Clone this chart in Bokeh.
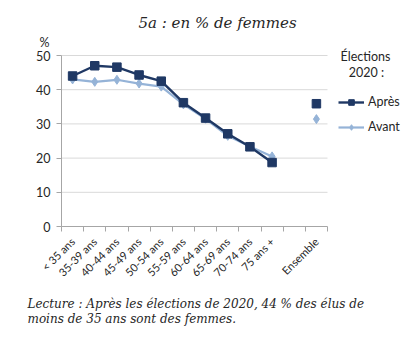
from bokeh.plotting import figure
from bokeh.models import (Range1d, FixedTicker, Label, Legend, LegendItem, Title)
from bokeh.embed import file_html
from bokeh.resources import INLINE
from math import pi

categories = ["< 35 ans", "35-39 ans", "40-44 ans", "45-49 ans", "50-54 ans",
              "55-59 ans", "60-64 ans", "65-69 ans", "70-74 ans", "75 ans +",
              "", "Ensemble"]
apres = [44.0, 47.0, 46.6, 44.3, 42.5, 36.2, 31.7, 27.1, 23.3, 18.7]
avant = [43.0, 42.3, 42.9, 41.8, 40.9, 35.7, 31.5, 26.5, 23.4, 20.5]
apres_ensemble = 35.9
avant_ensemble = 31.4
y_ticks = [0, 10, 20, 30, 40, 50]

DARK = "#1F3864"
LIGHT = "#95B3D7"
TXT = "#262626"
SANS = "Lato"
SERIF = "DejaVu Serif"

n = len(categories)
idx = list(range(n))
age_x = idx[:len(apres)]
ens_x = [categories.index("Ensemble")]
x0, x1 = -0.5, n - 0.5
y0, y1 = y_ticks[0], y_ticks[-1]

# frame extends to the right edge so that legend texts are inside it
FRAME_L, FRAME_T = 61, 45
px_per_x = 266 / n
px_per_y = 171 / (y1 - y0)
x_end = x0 + (414 - FRAME_L) / px_per_x
y_end = y0 + (226 - FRAME_T) / px_per_y

p = figure(width=414, height=338, output_backend="svg", toolbar_location=None,
           x_range=Range1d(x0, x_end), y_range=Range1d(y0, y_end),
           min_border_left=FRAME_L, min_border_right=0, min_border_top=FRAME_T,
           min_border_bottom=112)
p.outline_line_color = None
p.background_fill_color = "white"
p.border_fill_color = "white"
p.title.text = ""

# axes
p.xaxis.ticker = FixedTicker(ticks=[i for i in idx if categories[i]],
                             minor_ticks=[i - 0.5 for i in idx] + [n - 0.5])
p.xaxis.bounds = (x0, x1)
p.xaxis.major_label_overrides = {i: c for i, c in enumerate(categories) if c}
p.xaxis.major_label_orientation = pi / 4
p.xaxis.major_tick_out = 0
p.xaxis.major_tick_in = 0
p.xaxis.minor_tick_out = 5
p.xaxis.minor_tick_in = 0
p.xaxis.minor_tick_line_color = "#A6A6A6"
p.xaxis.axis_line_color = "#A6A6A6"
p.xaxis.major_label_text_font = SANS
p.xaxis.major_label_text_font_size = "11px"
p.xaxis.major_label_text_color = TXT
p.xaxis.major_label_standoff = 8

p.yaxis.ticker = FixedTicker(ticks=y_ticks)
p.yaxis.bounds = (y0, y1)
p.yaxis.axis_line_color = "#A6A6A6"
p.yaxis.major_tick_line_color = "#A6A6A6"
p.yaxis.major_tick_out = 5
p.yaxis.major_tick_in = 0
p.yaxis.minor_tick_line_color = None
p.yaxis.major_label_text_font = SANS
p.yaxis.major_label_text_font_size = "12.5px"
p.yaxis.major_label_text_color = TXT
p.yaxis.major_label_standoff = 6

p.xgrid.grid_line_color = None
p.ygrid.grid_line_color = None
grid_y = y_ticks[1:]
p.segment(x0=[x0] * len(grid_y), x1=[x1] * len(grid_y), y0=grid_y, y1=grid_y,
          line_color="#D9D9D9", line_width=1)

# series
l_av = p.line(age_x, avant, line_color=LIGHT, line_width=2.2)
m_av = p.scatter(age_x, avant, marker="diamond", size=9, fill_color=LIGHT, line_color=LIGHT)
l_ap = p.line(age_x, apres, line_color=DARK, line_width=2.4)
m_ap = p.scatter(age_x, apres, marker="square", size=8.5, fill_color=DARK, line_color=DARK)
p.scatter(ens_x, [apres_ensemble], marker="square", size=8.5, fill_color=DARK, line_color=DARK)
p.scatter(ens_x, [avant_ensemble], marker="diamond", size=9, fill_color=LIGHT, line_color=LIGHT)

legend = Legend(items=[LegendItem(label="Après", renderers=[l_ap, m_ap]),
                       LegendItem(label="Avant", renderers=[l_av, m_av])],
                location=(277, 92), orientation="vertical",
                label_text_font=SANS, label_text_font_size="12.5px",
                label_text_color=TXT, glyph_width=26, glyph_height=14,
                spacing=10, padding=0, margin=0, label_standoff=4,
                border_line_color=None, background_fill_alpha=0)
p.add_layout(legend, "center")

def lab(text, x, y, size="12.5px"):
    p.add_layout(Label(x=x, y=y, x_units="screen", y_units="screen", text=text,
                       text_font=SANS, text_font_size=size,
                       text_color=TXT, text_align="center", text_baseline="middle"))

lab("Élections", 304, 170)
lab("2020 :", 305, 154)

# titles above (first added is nearest the frame)
p.add_layout(Title(text="%", align="left", offset=-22, standoff=-8,
                   text_font=SANS, text_font_size="12.5px", text_font_style="normal",
                   text_color=TXT), "above")
p.add_layout(Title(text="5a : en % de femmes", align="left", offset=77, standoff=10,
                   text_font=SERIF, text_font_size="15px", text_font_style="italic",
                   text_color=TXT), "above")

# footnote below
p.add_layout(Title(text="Lecture : Après les élections de 2020, 44 % des élus de\n"
                        "moins de 35 ans sont des femmes.",
                   align="left", offset=-34, standoff=17, text_line_height=1.1,
                   text_font=SERIF, text_font_size="12px", text_font_style="italic",
                   text_color=TXT), "below")

open("out.html", "w").write(file_html(p, INLINE))
